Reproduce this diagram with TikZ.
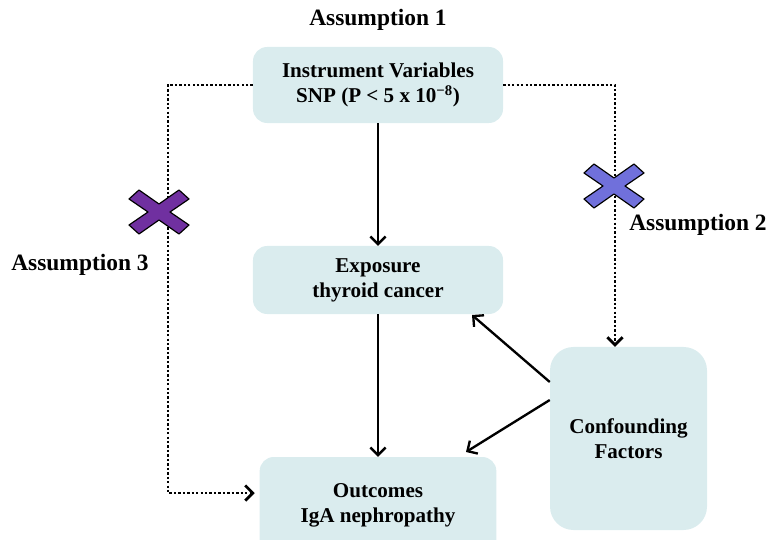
\documentclass[tikz,border=0pt]{standalone}
\usepackage{fontspec}
\setmainfont{Liberation Serif}
\usetikzlibrary{arrows.meta}
\definecolor{boxfill}{RGB}{218,236,238}
\definecolor{crossviolet}{RGB}{112,48,160}
\definecolor{crossblue}{RGB}{112,112,219}
\newcommand{\assumptioncross}[2]{%
  \draw[fill=#2,line width=1pt,line join=round,shift={#1}]
    (0,-8) -- (20,-22) -- (30,-13) -- (11,0) -- (30,13) -- (20,22) -- (0,8)
    -- (-20,22) -- (-30,13) -- (-11,0) -- (-30,-13) -- (-20,-22) -- cycle;}

\begin{document}
\begin{tikzpicture}[
  x=0.03cm,
  y=-0.03cm,
  >={Straight Barb[length=6.5pt,width=13pt]},
  every node/.style={font=\fontsize{18}{21.5}\selectfont\bfseries},
  box node/.style={rectangle,rounded corners=12pt,fill=boxfill,align=center,inner sep=2pt},
  label node/.style={inner sep=0pt,font=\fontsize{20}{24}\selectfont\bfseries},
  causal/.style={->,line width=2pt},
  assumption/.style={->,line width=2.4pt,dash pattern=on 2pt off 1.8pt},
]
\clip (0,0) rectangle (767,540);
\node[box node,minimum width=7.5cm,minimum height=2.28cm] (iv) at (378,85) {Instrument Variables\\SNP (P < 5 x 10\textsuperscript{−8})};
\node[box node,minimum width=7.5cm,minimum height=2.04cm] (exp) at (378,280) {Exposure\\thyroid cancer};
\node[box node,minimum width=7.1cm,minimum height=2.88cm] (out) at (378,505) {Outcomes\\IgA nephropathy};
\node[box node,rounded corners=20pt,minimum width=4.71cm,minimum height=5.49cm] (conf) at (628.5,438.5) {Confounding\\Factors};
\node[label node] (a1) at (378,20) {Assumption 1};
\node[label node] (a2) at (698,225) {Assumption 2};
\node[label node] (a3) at (80,265) {Assumption 3};
\coordinate (lcorner) at (168,85);
\coordinate (rcorner) at (615,85);
\draw[causal] (iv) -- (exp);
\draw[causal] (exp) -- (out);
\draw[causal] (conf.west |- 0,382) -- (472,315);
\draw[causal] (conf.west |- 0,400) -- (466,452);
\draw[assumption] (iv.west) -- (lcorner) |- ([xshift=-4pt]out.west |- 0,493);
\draw[assumption] (iv.east) -- (rcorner) -- (rcorner |- conf.north);
\assumptioncross{(159,212)}{crossviolet}
\assumptioncross{(614,186)}{crossblue}
\end{tikzpicture}
\end{document}
